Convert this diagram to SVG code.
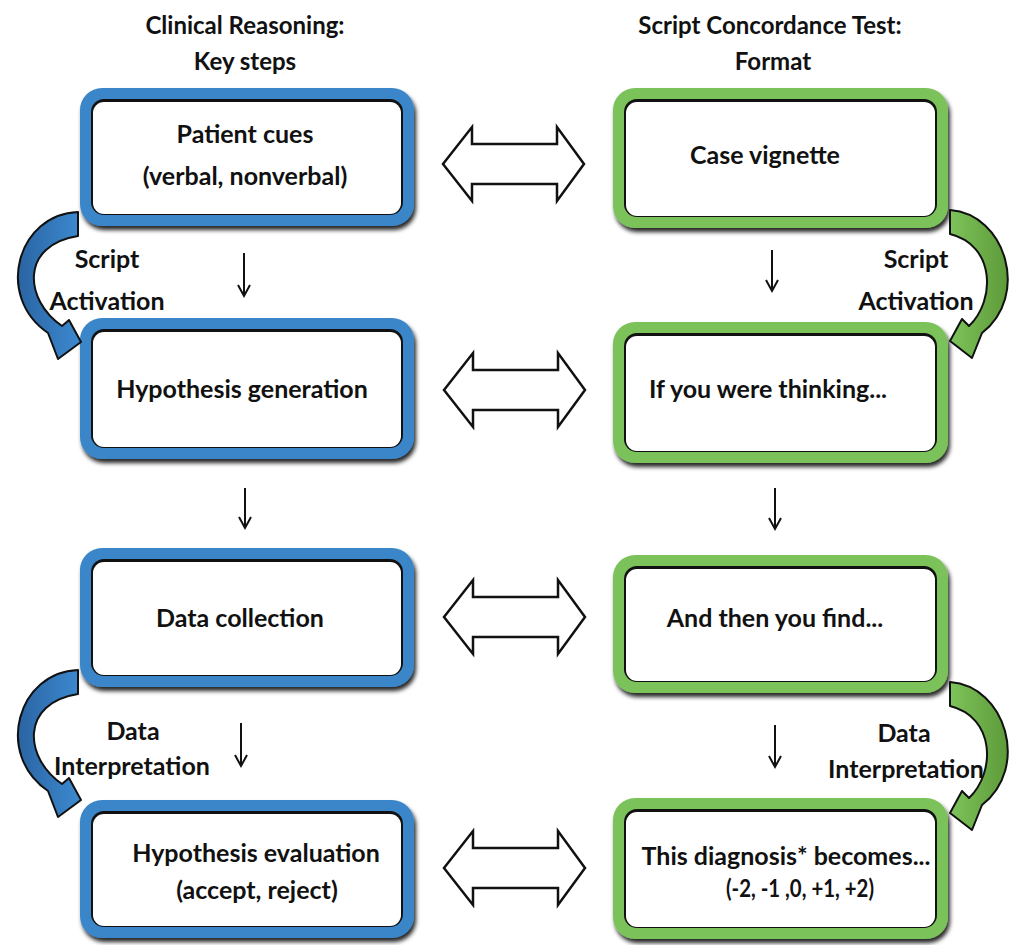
<svg xmlns="http://www.w3.org/2000/svg" width="1011" height="945" viewBox="0 0 1011 945">
<defs>
  <filter id="sh" x="-10%" y="-10%" width="125%" height="130%">
    <feDropShadow dx="2" dy="4" stdDeviation="2" flood-color="#000" flood-opacity="0.85"/>
  </filter>
  <linearGradient id="gBlue" x1="0" y1="0" x2="1" y2="0">
    <stop offset="0" stop-color="#2a64a3"/>
    <stop offset="1" stop-color="#3d8ad0"/>
  </linearGradient>
  <linearGradient id="gGreen" x1="1" y1="0" x2="0" y2="0">
    <stop offset="0" stop-color="#5e9a3a"/>
    <stop offset="1" stop-color="#7dc35a"/>
  </linearGradient>
  <path id="dbl" d="M443 164 L472 127 L472 144 L557 144 L557 127 L584 164 L557 201 L557 184 L472 184 L472 201 Z"/>
  <path id="curveL" d="M78 212 C18 214 -6 296 48 333 L58 359 L81 342 L69 320 L62 326 C24 300 20 245 78 236 Z"/>
  <path id="curveR" d="M950 210 C1006 214 1030 296 982 333 L972 358 L950 341 L962 319 L969 326 C996 300 995 245 950 234 Z"/>
</defs>
<style>
  text { font-family: Lato, "Open Sans", "Liberation Sans", sans-serif; font-weight: 700; font-size: 25px; fill: #111; text-anchor: middle; }
  .hdr { font-size: 24px; }
  .blue { fill: #3b85c9; }
  .green { fill: #7cc25a; }
  .inner { fill: #111; }
  .face { fill: #fff; }
  .dbl { fill: #fff; stroke: #111; stroke-width: 2.5; stroke-linejoin: miter; }
  .down { stroke: #111; stroke-width: 2; fill: none; }
  .cb { fill: url(#gBlue); stroke: #111; stroke-width: 2; stroke-linejoin: round; }
  .cg { fill: url(#gGreen); stroke: #111; stroke-width: 2; stroke-linejoin: round; }
</style>
<rect width="1011" height="945" fill="#fff"/>

<g id="headers">
  <text class="hdr" x="245" y="34">Clinical Reasoning:</text>
  <text class="hdr" x="245" y="70">Key steps</text>
  <text class="hdr" x="770" y="34">Script Concordance Test:</text>
  <text class="hdr" x="773" y="70">Format</text>
</g>

<g id="box-patient-cues">
  <rect class="blue" x="80" y="88" width="334" height="138" rx="22" filter="url(#sh)"/>
  <rect class="inner" x="91" y="99" width="312" height="116" rx="13"/>
  <rect class="face" x="93" y="102" width="308" height="112" rx="11"/>
  <text x="245" y="143">Patient cues</text>
  <text x="245" y="185">(verbal, nonverbal)</text>
</g>
<g id="box-hypothesis-generation">
  <rect class="blue" x="80" y="318" width="334" height="141" rx="22" filter="url(#sh)"/>
  <rect class="inner" x="91" y="329" width="312" height="119" rx="13"/>
  <rect class="face" x="93" y="332" width="308" height="115" rx="11"/>
  <text x="242" y="398">Hypothesis generation</text>
</g>
<g id="box-data-collection">
  <rect class="blue" x="80" y="548" width="334" height="139" rx="22" filter="url(#sh)"/>
  <rect class="inner" x="91" y="559" width="312" height="117" rx="13"/>
  <rect class="face" x="93" y="562" width="308" height="113" rx="11"/>
  <text x="240" y="627">Data collection</text>
</g>
<g id="box-hypothesis-evaluation">
  <rect class="blue" x="80" y="800" width="334" height="138" rx="22" filter="url(#sh)"/>
  <rect class="inner" x="91" y="811" width="312" height="116" rx="13"/>
  <rect class="face" x="93" y="814" width="308" height="112" rx="11"/>
  <text x="256" y="862">Hypothesis evaluation</text>
  <text x="257" y="899">(accept, reject)</text>
</g>

<g id="box-case-vignette">
  <rect class="green" x="613" y="88" width="335" height="140" rx="22" filter="url(#sh)"/>
  <rect class="inner" x="624" y="99" width="313" height="118" rx="13"/>
  <rect class="face" x="626" y="102" width="309" height="114" rx="11"/>
  <text x="765" y="164">Case vignette</text>
</g>
<g id="box-if-you-were-thinking">
  <rect class="green" x="613" y="322" width="335" height="141" rx="22" filter="url(#sh)"/>
  <rect class="inner" x="624" y="333" width="313" height="119" rx="13"/>
  <rect class="face" x="626" y="336" width="309" height="115" rx="11"/>
  <text x="768" y="398">If you were thinking...</text>
</g>
<g id="box-and-then-you-find">
  <rect class="green" x="613" y="555" width="335" height="138" rx="22" filter="url(#sh)"/>
  <rect class="inner" x="624" y="566" width="313" height="116" rx="13"/>
  <rect class="face" x="626" y="569" width="309" height="112" rx="11"/>
  <text x="775" y="627">And then you find...</text>
</g>
<g id="box-this-diagnosis">
  <rect class="green" x="613" y="798" width="335" height="141" rx="22" filter="url(#sh)"/>
  <rect class="inner" x="624" y="809" width="313" height="119" rx="13"/>
  <rect class="face" x="626" y="812" width="309" height="115" rx="11"/>
  <text x="786" y="865">This diagnosis* becomes...</text>
  <text x="800" y="897" textLength="148" lengthAdjust="spacingAndGlyphs">(-2, -1 ,0, +1, +2)</text>
</g>

<g id="connectors">
  <use href="#dbl" class="dbl"/>
  <use href="#dbl" class="dbl" transform="translate(1 226)"/>
  <use href="#dbl" class="dbl" transform="translate(1 453)"/>
  <use href="#dbl" class="dbl" transform="translate(1 704)"/>

  <path class="down" d="M244 253 V296 M238 285 L244 296 L250 285"/>
  <path class="down" d="M245 488 V528 M239 517 L245 528 L251 517"/>
  <path class="down" d="M241 723 V766 M235 755 L241 766 L247 755"/>
  <path class="down" d="M772 250 V291 M766 280 L772 291 L778 280"/>
  <path class="down" d="M775 488 V529 M769 518 L775 529 L781 518"/>
  <path class="down" d="M775 725 V767 M769 756 L775 767 L781 756"/>

  <use href="#curveL" class="cb"/>
  <use href="#curveL" class="cb" transform="translate(0 458)"/>
  <use href="#curveR" class="cg"/>
  <use href="#curveR" class="cg" transform="translate(0 472)"/>
</g>

<g id="labels">
  <text x="107" y="268">Script</text>
  <text x="107" y="310">Activation</text>
  <text x="916" y="268">Script</text>
  <text x="916" y="310">Activation</text>
  <text x="133" y="740">Data</text>
  <text x="132" y="775">Interpretation</text>
  <text x="904" y="742">Data</text>
  <text x="906" y="778">Interpretation</text>
</g>
</svg>
